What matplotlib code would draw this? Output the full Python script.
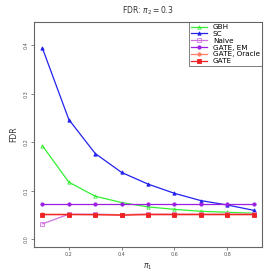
import matplotlib
matplotlib.use('Agg')
import matplotlib.pyplot as plt

# x values (pi_1)
pi1 = [0.1, 0.2, 0.3, 0.4, 0.5, 0.6, 0.7, 0.8, 0.9]

# FDR for each method
gbh = [0.193, 0.118, 0.089, 0.076, 0.067, 0.062, 0.058, 0.056, 0.054]
sc = [0.394, 0.247, 0.177, 0.138, 0.114, 0.095, 0.080, 0.071, 0.060]
naive = [0.032, 0.052, 0.052, 0.051, 0.052, 0.052, 0.052, 0.052, 0.052]
gate_em = [0.073, 0.073, 0.073, 0.073, 0.073, 0.073, 0.073, 0.073, 0.073]
gate_oracle = [0.052, 0.052, 0.051, 0.051, 0.052, 0.052, 0.052, 0.052, 0.052]
gate = [0.051, 0.051, 0.051, 0.050, 0.051, 0.051, 0.051, 0.051, 0.051]

labels = ['GBH', 'SC', 'Naive', 'GATE, EM', 'GATE, Oracle', 'GATE']
series = [gbh, sc, naive, gate_em, gate_oracle, gate]
colors = ['#33ee33', '#2222ee', '#d070e0', '#9a1fe0', '#ff7f66', '#ee2222']
markers = ['^', '^', 's', 'o', 'o', 's']
filled = [False, True, False, True, True, True]

fig = plt.figure(figsize=(2.73, 2.73), dpi=100)
ax = fig.add_axes([0.1245, 0.0963, 0.8355, 0.8231])

for y, lab, c, m, f in zip(series, labels, colors, markers, filled):
    ax.plot(pi1, y, color=c, lw=0.9, marker=m, markersize=2.4,
            markerfacecolor=c if f else 'none', markeredgecolor=c,
            markeredgewidth=0.6, label=lab)

ax.set_xlim(0.068, 0.932)
ax.set_ylim(-0.015, 0.448)
ax.set_xticks([0.2, 0.4, 0.6, 0.8])
ax.set_yticks([0.0, 0.1, 0.2, 0.3, 0.4])
ax.set_xticklabels(['0.2', '0.4', '0.6', '0.8'])
ax.set_yticklabels(['0.0', '0.1', '0.2', '0.3', '0.4'], rotation=90, va='center')
ax.tick_params(labelsize=3.5, length=2, width=0.5, colors='#555555', pad=2)

for s in ax.spines.values():
    s.set_color('#666666')
    s.set_linewidth(0.8)

ax.set_title(r'FDR: $\pi_2 = 0.3$', fontsize=5.5, color='#333333', pad=6)
ax.set_xlabel(r'$\pi_1$', fontsize=5.5, color='#333333', labelpad=3)
ax.set_ylabel('FDR', fontsize=5.5, color='#333333', labelpad=4)

leg = ax.legend(loc='upper right', fontsize=5.2, frameon=True, fancybox=False,
                borderaxespad=0, handlelength=2.2, handletextpad=0.8,
                labelspacing=0.1, borderpad=0.3)
leg.get_frame().set_edgecolor('#444444')
leg.get_frame().set_linewidth(0.6)

plt.savefig('out.png', dpi=100)
